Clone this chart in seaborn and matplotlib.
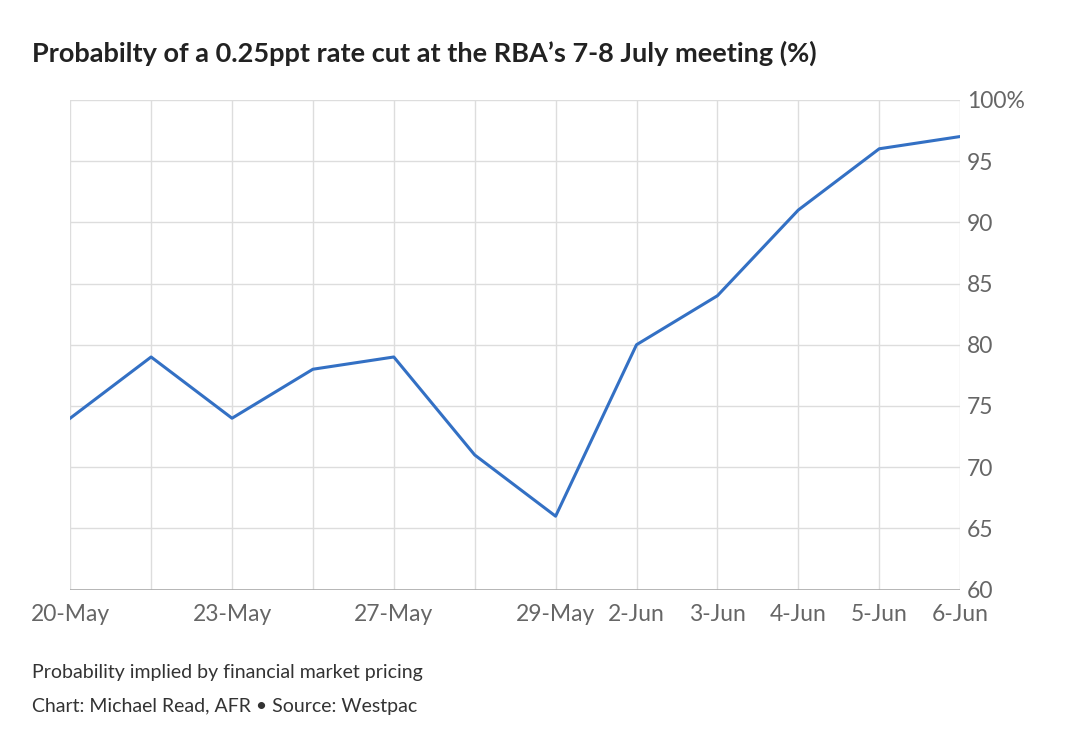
import matplotlib
matplotlib.use("Agg")
import matplotlib.pyplot as plt
import seaborn as sns
import pandas as pd

dates = ["20-May", "21-May", "23-May", "24-May", "27-May", "28-May",
         "29-May", "2-Jun", "3-Jun", "4-Jun", "5-Jun", "6-Jun"]
probability = [74, 79, 74, 78, 79, 71, 66, 80, 84, 91, 96, 97]
shown_labels = ["20-May", "", "23-May", "", "27-May", "", "29-May",
                "2-Jun", "3-Jun", "4-Jun", "5-Jun", "6-Jun"]
y_ticks = [60, 65, 70, 75, 80, 85, 90, 95, 100]

df = pd.DataFrame({"pos": range(len(dates)), "prob": probability})

plt.rcParams["font.family"] = "Lato"
fig = plt.figure(figsize=(10.8, 7.56), dpi=100)
ax = fig.add_axes([0.065, 0.22, 0.824, 0.648])

sns.lineplot(x="pos", y="prob", data=df, ax=ax, color="#3370c4", linewidth=2.2)

ax.set_xlim(0, len(dates) - 1)
ax.set_ylim(60, 100)
ax.set_xticks(range(len(dates)))
ax.set_xticklabels(shown_labels)
ax.set_yticks(y_ticks)
ax.set_yticklabels([f"{v}%" if v == 100 else str(v) for v in y_ticks])
ax.yaxis.tick_right()
ax.grid(True, color="#dddddd", linewidth=1)
ax.set_axisbelow(True)
for s in ax.spines.values():
    s.set_visible(False)
ax.axhline(60, color="#aaaaaa", linewidth=1.2)
ax.tick_params(axis="both", length=0, labelsize=16.5, labelcolor="#666666")
ax.tick_params(axis="y", pad=5)
ax.tick_params(axis="x", pad=10)
ax.set_xlabel("")
ax.set_ylabel("")

fig.text(0.03, 0.93, "Probabilty of a 0.25ppt rate cut at the RBA\u2019s 7-8 July meeting (%)",
         fontsize=19.5, fontweight="bold", color="#222222", va="center")
fig.text(0.03, 0.11, "Probability implied by financial market pricing",
         fontsize=14, color="#333333", va="center")
fig.text(0.03, 0.065, "Chart: Michael Read, AFR \u2022 Source: Westpac",
         fontsize=14, color="#333333", va="center")

fig.savefig("out.png", dpi=100, facecolor="white")
